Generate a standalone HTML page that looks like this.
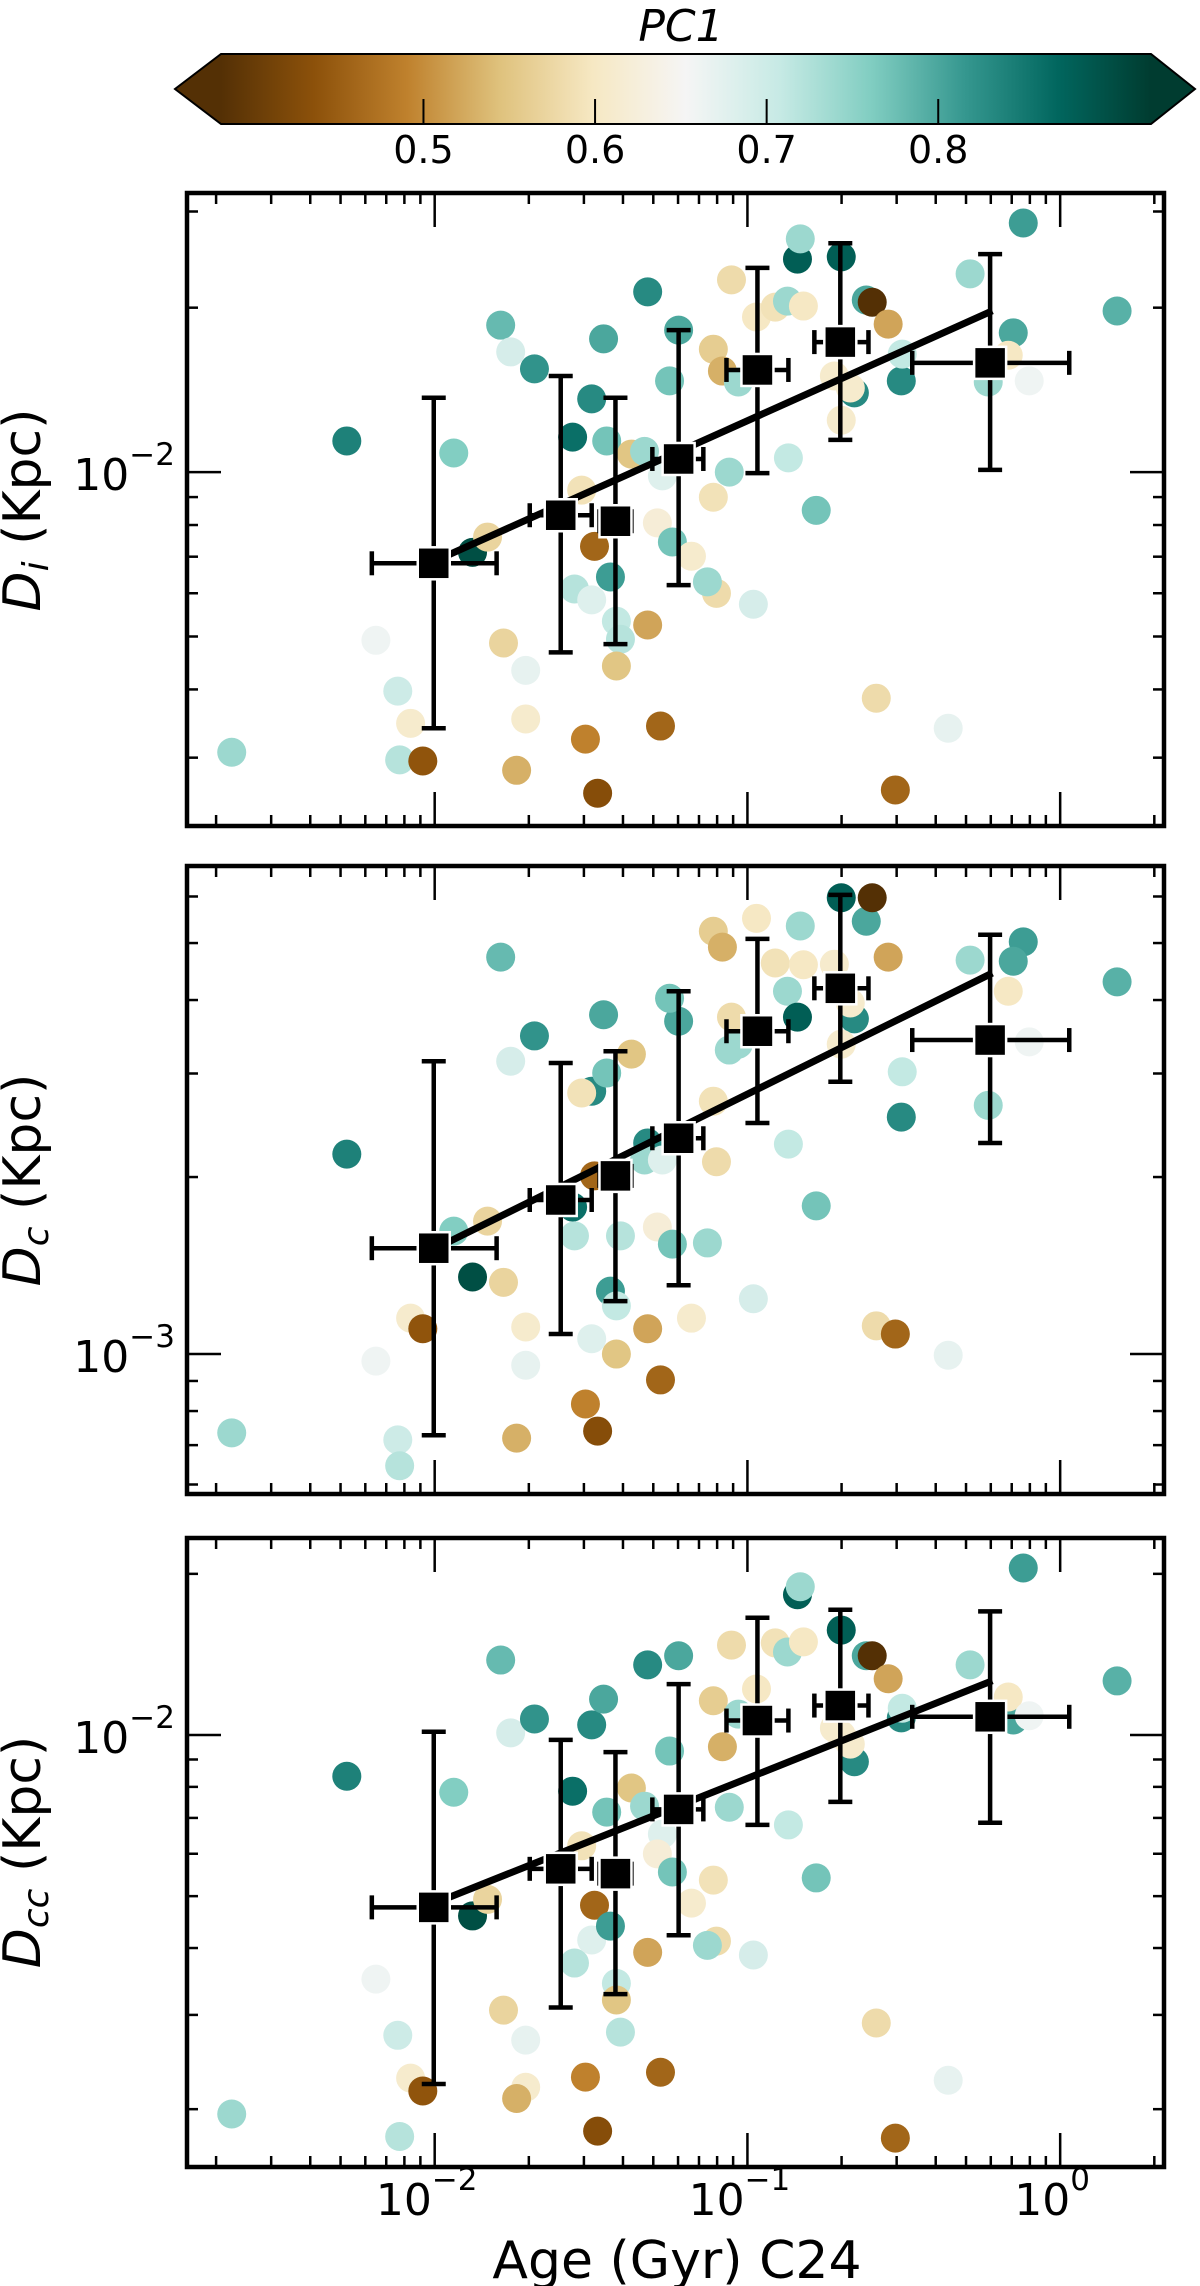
<!DOCTYPE html>
<html><head><meta charset="utf-8"><style>
html,body{margin:0;padding:0;background:#fff;}
svg{display:block;font-family:"DejaVu Sans","Liberation Sans",sans-serif;}
</style></head><body>
<svg id="fig" width="1200" height="2286" viewBox="0 0 1200 2286" xmlns="http://www.w3.org/2000/svg"></svg>
<script>
// ---- data (log10 values) ----
const logAge = [-2.649,-2.281,-2.188,-2.118,-2.077,-2.112,-2.038,-1.939,-1.879,-1.831,-1.789,-1.757,-1.780,-1.709,-1.709,-1.738,-1.681,-1.559,-1.498,-1.460,-1.530,-1.489,-1.450,-1.553,-1.498,-1.438,-1.419,-1.406,-1.419,-1.518,-1.479,-1.371,-1.319,-1.329,-1.272,-1.288,-1.319,-1.278,-1.220,-1.249,-1.240,-1.179,-1.099,-1.128,-1.109,-1.080,-1.029,-1.058,-1.109,-0.981,-1.051,-0.971,-0.911,-0.872,-0.821,-0.840,-0.831,-0.869,-0.780,-0.700,-0.620,-0.601,-0.550,-0.722,-0.658,-0.671,-0.700,-0.508,-0.505,-0.588,-0.527,-0.358,-0.288,-0.118,-0.150,-0.166,-0.230,-0.099,0.182];
const pc1 = [0.74,0.84,0.66,0.70,0.61,0.72,0.44,0.76,0.90,0.57,0.78,0.69,0.57,0.67,0.61,0.53,0.82,0.86,0.83,0.80,0.59,0.46,0.77,0.72,0.68,0.81,0.71,0.72,0.55,0.49,0.43,0.55,0.83,0.74,0.68,0.62,0.52,0.46,0.80,0.77,0.77,0.61,0.58,0.74,0.56,0.53,0.74,0.74,0.59,0.69,0.58,0.60,0.59,0.74,0.60,0.88,0.74,0.71,0.77,0.88,0.80,0.38,0.52,0.61,0.83,0.61,0.61,0.83,0.71,0.58,0.46,0.67,0.74,0.81,0.80,0.60,0.74,0.66,0.79];
const logDi = [-2.513,-1.943,-2.308,-2.401,-2.460,-2.527,-2.529,-1.965,-2.147,-2.119,-1.731,-1.780,-2.313,-2.363,-2.452,-2.546,-1.811,-1.936,-1.866,-1.756,-2.033,-2.136,-1.943,-2.214,-2.234,-2.192,-2.273,-2.306,-2.355,-2.489,-2.588,-1.967,-1.670,-1.962,-2.007,-2.093,-2.280,-2.465,-1.740,-1.833,-2.128,-2.154,-2.222,-2.201,-1.775,-1.815,-1.835,-2.000,-2.046,-2.242,-1.648,-1.716,-1.698,-1.687,-1.696,-1.610,-1.573,-1.974,-2.070,-1.606,-1.685,-1.689,-1.729,-1.824,-1.855,-1.846,-1.905,-1.833,-1.784,-2.414,-2.582,-2.469,-1.637,-1.544,-1.745,-1.786,-1.835,-1.833,-1.705];
const logDc = [-3.134,-2.660,-3.012,-3.146,-2.939,-3.190,-2.957,-2.791,-2.869,-2.774,-2.325,-2.502,-2.878,-3.019,-2.954,-3.143,-2.459,-2.750,-2.553,-2.423,-2.556,-2.697,-2.522,-2.799,-2.974,-2.893,-2.918,-2.799,-3.000,-3.085,-3.131,-2.490,-2.641,-2.670,-2.670,-2.784,-2.957,-3.044,-2.434,-2.395,-2.813,-2.939,-2.673,-2.811,-2.281,-2.308,-2.473,-2.483,-2.570,-2.906,-2.427,-2.259,-2.335,-2.383,-2.338,-2.427,-2.272,-2.643,-2.748,-2.224,-2.264,-2.224,-2.325,-2.337,-2.430,-2.403,-2.473,-2.597,-2.520,-2.952,-2.966,-3.002,-2.330,-2.299,-2.332,-2.383,-2.577,-2.469,-2.367];
const logDcc = [-2.708,-2.077,-2.456,-2.561,-2.641,-2.750,-2.665,-2.107,-2.338,-2.307,-1.860,-1.996,-2.514,-2.570,-2.658,-2.679,-1.970,-2.105,-1.981,-1.933,-2.207,-2.318,-2.144,-2.426,-2.383,-2.357,-2.464,-2.555,-2.495,-2.639,-2.740,-2.099,-1.869,-2.133,-2.185,-2.222,-2.406,-2.630,-1.852,-2.030,-2.256,-2.314,-2.385,-2.393,-1.936,-2.022,-1.961,-2.135,-2.271,-2.411,-1.832,-1.914,-1.828,-1.845,-1.826,-1.738,-1.723,-2.168,-2.267,-1.804,-1.852,-1.852,-1.895,-1.987,-2.050,-2.017,-2.000,-1.968,-1.950,-2.538,-2.753,-2.645,-1.869,-1.688,-1.972,-1.929,-1.964,-1.964,-1.899];
// binned medians
const binAge   = [-2.003,-1.597,-1.422,-1.220,-0.968,-0.703,-0.224];
const binAgeLo = [-2.201,-1.696,-1.473,-1.304,-1.067,-0.786,-0.473];
const binAgeHi = [-1.802,-1.498,-1.371,-1.141,-0.869,-0.613,0.029];
const binDi   = [-2.167,-2.079,-2.090,-1.976,-1.813,-1.762,-1.800];
const binDiLo = [-2.469,-2.330,-2.315,-2.207,-2.002,-1.941,-1.996];
const binDiHi = [-1.864,-1.824,-1.864,-1.740,-1.626,-1.581,-1.601];
const binDc   = [-2.820,-2.738,-2.697,-2.633,-2.451,-2.378,-2.466];
const binDcLo = [-3.138,-2.966,-2.910,-2.883,-2.607,-2.537,-2.641];
const binDcHi = [-2.502,-2.505,-2.485,-2.383,-2.294,-2.219,-2.287];
const binDcc   = [-2.322,-2.250,-2.259,-2.139,-1.973,-1.945,-1.966];
const binDccLo = [-2.652,-2.509,-2.484,-2.374,-2.168,-2.125,-2.164];
const binDccHi = [-1.994,-2.009,-2.032,-1.905,-1.781,-1.766,-1.769];
// linear fits in log-log space
const fitSlope = [0.257, 0.263, 0.233];
const fitIntercept = [-1.649, -2.295, -1.848];
const fitRange = [-1.981, -0.217];
const cbTicks = [0.5, 0.6, 0.7, 0.8];
const pcMin = 0.382, pcMax = 0.924;

// ---- helpers ----
const NS = "http://www.w3.org/2000/svg";
const svg = document.getElementById('fig');
function mk(tag, attrs, parent) {
  const e = document.createElementNS(NS, tag);
  for (const k in attrs) e.setAttribute(k, attrs[k]);
  (parent || svg).appendChild(e);
  return e;
}
const stops = ["#543005","#8c510a","#bf812d","#dfc27d","#f6e8c3","#f5f5f5","#c7eae5","#80cdc1","#35978f","#01665e","#003c30"];
function hex(h){return [parseInt(h.slice(1,3),16),parseInt(h.slice(3,5),16),parseInt(h.slice(5,7),16)];}
function cmap(t){
  t=Math.max(0,Math.min(1,t));
  const f=t*10, i=Math.min(9,Math.floor(f)), r=f-i;
  const a=hex(stops[i]), b=hex(stops[i+1]);
  return "rgb("+a.map((v,k)=>Math.round(v+(b[k]-v)*r)).join(",")+")";
}
function pcColor(v){return cmap((v-pcMin)/(pcMax-pcMin));}

const X0=187, X1=1164, xlo=-2.792, xhi=0.332;
function xs(l){return X0+(l-xlo)/(xhi-xlo)*(X1-X0);}

// ---- colorbar ----
const cbL=221, cbR=1151, cbT=54, cbB=124;
function cbx(v){return cbL+(v-pcMin)/(pcMax-pcMin)*(cbR-cbL);}
const defs = mk('defs',{});
const grad = mk('linearGradient',{id:'cbg',x1:'0',x2:'1',y1:'0',y2:'0'},defs);
for(let i=0;i<=20;i++){mk('stop',{offset:(i/20),'stop-color':cmap(i/20)},grad);}
const cbG = mk('g',{});


mk('rect',{x:cbL,y:cbT,width:cbR-cbL,height:cbB-cbT,fill:'url(#cbg)'},cbG);
mk('polygon',{points:`${cbL},${cbT} 175,${(cbT+cbB)/2} ${cbL},${cbB}`,fill:stops[0]},cbG);
mk('polygon',{points:`${cbR},${cbT} 1195,${(cbT+cbB)/2} ${cbR},${cbB}`,fill:stops[10]},cbG);
mk('polygon',{points:`${cbL},${cbT} ${cbR},${cbT} 1195,${(cbT+cbB)/2} ${cbR},${cbB} ${cbL},${cbB} 175,${(cbT+cbB)/2}`,fill:'none',stroke:'#000','stroke-width':2},cbG);
cbTicks.forEach(v=>{
  mk('line',{x1:cbx(v),x2:cbx(v),y1:cbB,y2:cbB-25,stroke:'#000','stroke-width':2},cbG);
  const t=mk('text',{x:cbx(v),y:163,'text-anchor':'middle','font-size':38},cbG);
  t.textContent=v.toFixed(1);
  
  
});
const pcl = mk('text',{x:681,y:41,'text-anchor':'middle','font-size':44,'font-style':'italic'});
pcl.textContent='PC1';



// ---- panels ----
const panels = [
  {name:'di', top:193, bot:826, ylo:-2.648, yhi:-1.489, vals:logDi, b:binDi, bl:binDiLo, bh:binDiHi, sub:'i', yc:510},
  {name:'dc', top:866, bot:1494, ylo:-3.238, yhi:-2.170, vals:logDc, b:binDc, bl:binDcLo, bh:binDcHi, sub:'c', yc:1180},
  {name:'dcc', top:1538, bot:2167, ylo:-2.807, yhi:-1.632, vals:logDcc, b:binDcc, bl:binDccLo, bh:binDccHi, sub:'cc', yc:1852}
];
panels.forEach((p,pi)=>{
  const ys = l => p.bot-(l-p.ylo)/(p.yhi-p.ylo)*(p.bot-p.top);
  const g = mk('g',{});
  
  
  // dots
  p.vals.forEach((v,i)=>{
    const c=mk('circle',{cx:xs(logAge[i]),cy:ys(v),r:14.5,fill:pcColor(pc1[i])},g);
    
    
  });
  // fit line
  const fl=mk('line',{x1:xs(fitRange[0]),y1:ys(fitIntercept[pi]+fitSlope[pi]*fitRange[0]),x2:xs(fitRange[1]),y2:ys(fitIntercept[pi]+fitSlope[pi]*fitRange[1]),stroke:'#000','stroke-width':7},g);
  
  
  // error bars + squares
  binAge.forEach((a,i)=>{
    const eg=mk('g',{stroke:'#000','stroke-width':4.5,fill:'none'},g);
    
    
    const x=xs(a), y=ys(p.b[i]);
    const yl=ys(p.bl[i]), yh=ys(p.bh[i]), xl=xs(binAgeLo[i]), xh=xs(binAgeHi[i]);
    mk('line',{x1:x,x2:x,y1:yl,y2:yh},eg);
    mk('line',{x1:x-12,x2:x+12,y1:yl,y2:yl},eg);
    mk('line',{x1:x-12,x2:x+12,y1:yh,y2:yh},eg);
    mk('line',{x1:xl,x2:xh,y1:y,y2:y},eg);
    mk('line',{x1:xl,x2:xl,y1:y-12,y2:y+12},eg);
    mk('line',{x1:xh,x2:xh,y1:y-12,y2:y+12},eg);
    const s=mk('rect',{x:x-16,y:y-16,width:32,height:32,fill:'#000',stroke:'#fff','stroke-width':2.5},g);
    
    
  });
  // ticks
  const tg=mk('g',{stroke:'#000','stroke-width':2.5},g);
  
  
  for(let d=-3;d<=0;d++){
    for(let k=1;k<=9;k++){
      const l=d+Math.log10(k);
      if(l<=xlo||l>=xhi) continue;
      const x=xs(l), len=k===1?34:11;
      mk('line',{x1:x,x2:x,y1:p.bot,y2:p.bot-len},tg);
      mk('line',{x1:x,x2:x,y1:p.top,y2:p.top+len},tg);
    }
  }
  for(let d=-4;d<=-1;d++){
    for(let k=1;k<=9;k++){
      const l=d+Math.log10(k);
      if(l<=p.ylo||l>=p.yhi) continue;
      const y=ys(l), len=k===1?34:11;
      mk('line',{x1:X0,x2:X0+len,y1:y,y2:y},tg);
      mk('line',{x1:X1,x2:X1-len,y1:y,y2:y},tg);
      if(k===1){
        const t=mk('text',{x:175,y:y+18,'text-anchor':'end','font-size':44,stroke:'none'},g);
        
        
        const a=mk('tspan',{},t); a.textContent='10';
        const b=mk('tspan',{dy:-25,'font-size':31},t); b.textContent='\u2212'+(-d);
      }
    }
  }
  const fr=mk('rect',{x:X0,y:p.top,width:X1-X0,height:p.bot-p.top,fill:'none',stroke:'#000','stroke-width':4.5},g);
  
  
  // y title
  const yt=mk('text',{x:0,y:0,transform:`translate(40,${p.yc}) rotate(-90)`,'text-anchor':'middle','font-size':52},g);
  
  
  const t1=mk('tspan',{'font-style':'italic'},yt); t1.textContent='D';
  const t2=mk('tspan',{'font-style':'italic','font-size':36,dy:8},yt); t2.textContent=p.sub;
  const t3=mk('tspan',{dy:-8},yt); t3.textContent=' (Kpc)';
});
// x tick labels
[-2,-1,0].forEach(d=>{
  const t=mk('text',{x:xs(d)-8,y:2215,'text-anchor':'middle','font-size':44});
  
  
  const a=mk('tspan',{},t); a.textContent='10';
  const b=mk('tspan',{dy:-25,'font-size':31},t); b.textContent=(d<0?'\u2212'+(-d):'0');
});
const xt=mk('text',{x:677,y:2278,'text-anchor':'middle','font-size':52});
xt.textContent='Age (Gyr) C24';


</script>
</body></html>
